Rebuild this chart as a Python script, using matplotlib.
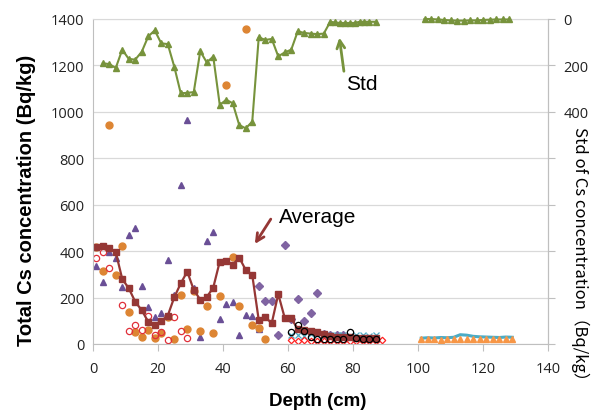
import matplotlib
matplotlib.use("Agg")
import matplotlib.pyplot as plt
from matplotlib.ticker import FuncFormatter


# -----------------------------
# DATA
# -----------------------------
std_depth = [3, 5, 7, 9, 11, 13, 15, 17, 19, 21, 23, 25, 27, 29, 31, 33, 35, 37, 39, 41,
             43, 45, 47, 49, 51, 53, 55, 57, 59, 61, 63, 65, 67, 69, 71,
             73, 74.5, 76, 77.5, 79, 80.5, 82, 83.5, 85, 87]
std_value = [191, 194, 211, 132, 172, 175, 141, 75, 49, 105, 108, 205, 320, 318, 315, 139, 187, 162, 370, 348,
             363, 457, 471, 442, 79, 90, 86, 161, 144, 132, 53, 60, 63, 65, 63,
             12, 15, 17, 17, 17, 17, 12, 12, 12, 12]
std_depth2 = [102, 104, 106, 108, 110, 112, 114, 116, 118, 120, 122, 124, 126, 128]
std_value2 = [0, 0, 2, 4, 6, 7, 7, 6, 6, 4, 3, 2, 2, 2]

avg_depth = [1, 3, 5, 7, 9, 11, 13, 15, 17, 19, 21, 23, 25, 27, 29, 31, 33, 35, 37, 39, 41, 43,
             45, 47, 49, 51, 53, 55, 57, 59, 61, 63, 65, 67, 69, 71, 73, 75, 77, 79, 81, 83, 85, 87]
avg_value = [419, 421, 413, 395, 280, 240, 182, 145, 96, 82, 99, 122, 201, 261, 312, 233, 191, 202, 243, 355, 359, 342,
             372, 319, 297, 103, 115, 90, 215, 112, 110, 65, 60, 57, 50, 43, 33, 30, 29, 29, 28, 28, 28, 28]

orange_depth = [1, 3, 5, 7, 9, 11, 13, 15, 17, 19, 21, 23, 25, 27, 29, 31, 33, 35, 37, 39, 41, 43, 45, 47, 49, 51, 53]
orange_value = [419, 313, 943, 297, 421, 136, 50, 32, 60, 24, 46, 118, 22, 213, 65, 228, 57, 162, 47, 207,
                1114, 373, 162, 1357, 82, 68, 22]

redc_depth = [1, 3, 5, 9, 11, 13, 15, 17, 19, 21, 23, 25, 27, 29]
redc_value = [369, 398, 327, 168, 57, 83, 60, 122, 40, 50, 17, 118, 57, 26]

purple_depth = [1, 3, 5, 7, 9, 11, 13, 15, 17, 19, 21, 23, 25, 27, 29, 31, 33, 35, 37, 39, 41, 43, 45, 47, 49, 51]
purple_value = [337, 266, 395, 369, 244, 471, 498, 248, 160, 117, 133, 361, 210, 686, 966, 240, 29, 445, 481, 108,
                172, 180, 40, 126, 122, 65]

diam_depth = [51, 53, 55, 57, 59, 61, 63, 65, 67, 69, 71, 73, 75, 77]
diam_value = [248, 187, 187, 40, 426, 108, 194, 100, 134, 221, 43, 38, 38, 38]

black_depth = [61, 63, 65, 67, 69, 71, 73, 75, 77, 79, 81, 83, 85, 87]
black_value = [53, 83, 57, 29, 22, 21, 21, 21, 22, 53, 24, 22, 22, 22]

redd_depth = [61, 63, 65, 67, 69, 71, 73, 75, 77, 79, 81, 83, 85, 87, 89]
redd_value = [18, 15, 16, 14, 15, 14, 15, 14, 14, 15, 14, 14, 14, 15, 16]

cyanx_depth = [61, 63, 65, 67, 69, 71, 73, 75, 77, 79, 81, 83, 85, 87]
cyanx_value = [38, 40, 36, 42, 38, 36, 40, 38, 37, 35, 37, 38, 36, 40]

deep_depth = [101, 103, 105, 107, 109, 111, 113, 115, 117, 119, 121, 123, 125, 127, 129]
deep_cyan = [25, 27, 26, 28, 27, 29, 40, 38, 33, 31, 30, 29, 28, 30, 29]
deep_orange = [20, 21, 20, 19, 21, 20, 22, 21, 20, 22, 21, 20, 21, 22, 21]

x_ticks = [0, 20, 40, 60, 80, 100, 120, 140]
y_ticks = [0, 200, 400, 600, 800, 1000, 1200, 1400]
right_labelled = [0, 200, 400]

# -----------------------------
# DRAW
# -----------------------------
TICK_FONT = "Open Sans"
GRID = "#d9d9d9"
SPINE = "#bfbfbf"
MS = 5

fig = plt.figure(figsize=(5.96, 4.14), dpi=100)
ax = fig.add_axes([93 / 596, 1 - 345 / 414, 455 / 596, 325 / 414])

ax.set_xlim(0, 140)
ax.set_ylim(0, 1400)
ax.set_xticks(x_ticks)
ax.set_yticks(y_ticks)
ax.grid(axis="y", color=GRID, lw=0.9)
ax.set_axisbelow(True)
for s in ax.spines.values():
    s.set_color(SPINE)
ax.spines["top"].set_color(GRID)
ax.tick_params(axis="y", length=0, pad=6, labelsize=10.5, labelcolor="#222222")
ax.tick_params(axis="x", length=5, direction="out", color=SPINE, pad=7, labelsize=10.5, labelcolor="#222222")
for lab in ax.get_xticklabels() + ax.get_yticklabels():
    lab.set_fontfamily(TICK_FONT)

# scatter series
ax.plot(purple_depth, purple_value, ls="none", marker="^", ms=MS, color="#6a4f96")
ax.plot(orange_depth, orange_value, ls="none", marker="o", ms=MS, color="#dd8533")
ax.plot(redc_depth, redc_value, ls="none", marker="o", ms=4.5, mfc="none", mec="#e0303a", mew=0.9)
ax.plot(diam_depth, diam_value, ls="none", marker="D", ms=3.8, color="#8064a2")
ax.plot(cyanx_depth, cyanx_value, ls="none", marker="x", ms=4, color="#4bacc6", mew=0.9)
ax.plot(redd_depth, redd_value, ls="none", marker="D", ms=3.3, mfc="none", mec="#ff2020", mew=0.9)
ax.plot(avg_depth, avg_value, marker="s", ms=MS, lw=1.6, color="#953735")
ax.plot(black_depth, black_value, ls="none", marker="o", ms=4.5, mfc="none", mec="black", mew=0.9)
ax.plot(deep_depth, deep_cyan, lw=2.2, color="#4bacc6")
ax.plot(deep_depth, deep_orange, ls="none", marker="^", ms=MS, color="#f79646")

# std on inverted right axis
ax2 = ax.twinx()
ax2.set_ylim(1400, 0)
ax2.set_yticks(y_ticks)
ax2.yaxis.set_major_formatter(FuncFormatter(lambda v, p: f"{v:.0f}" if v in right_labelled else ""))
ax2.tick_params(axis="y", length=5, direction="out", color=SPINE, pad=6, labelsize=10.5, labelcolor="#222222")
for lab in ax2.get_yticklabels():
    lab.set_fontfamily(TICK_FONT)
for s in ax2.spines.values():
    s.set_visible(False)
ax2.spines["right"].set_visible(True)
ax2.spines["right"].set_color(SPINE)
ax2.plot(std_depth, std_value, marker="^", ms=MS, lw=1.5, color="#77933c", clip_on=False)
ax2.plot(std_depth2, std_value2, marker="^", ms=MS, lw=1.5, color="#77933c", clip_on=False)

# annotations
ax.text(82.8, 1120, "Std", ha="center", va="center", fontsize=15, family="Liberation Sans")
ax.annotate("", xy=(75.8, 1320), xytext=(77.2, 1175),
            arrowprops=dict(arrowstyle="->", color="#77933c", lw=2, mutation_scale=14,
                            shrinkA=0, shrinkB=0))
ax.text(69.2, 551, "Average", ha="center", va="center", fontsize=15, family="Liberation Sans")
ax.annotate("", xy=(49.8, 431), xytext=(54.7, 538),
            arrowprops=dict(arrowstyle="->", color="#953735", lw=2, mutation_scale=14,
                            shrinkA=0, shrinkB=0))

# axis labels
fig.text(27 / 596, 1 - 200 / 414, "Total Cs concentration (Bq/kg)", rotation=90,
         ha="center", va="center", fontsize=14.5, fontweight="bold", family="Liberation Sans")
fig.text(318 / 596, 1 - 402 / 414, "Depth (cm)", ha="center", va="center",
         fontsize=13.5, fontweight="bold", family="Liberation Sans")
fig.text(580 / 596, 1 - 258 / 414, "Std of Cs concentration（Bq/kg）", rotation=-90,
         ha="center", va="center", fontsize=12, family=["Noto Sans CJK JP", "DejaVu Sans"])

fig.savefig("out.png", dpi=100)
